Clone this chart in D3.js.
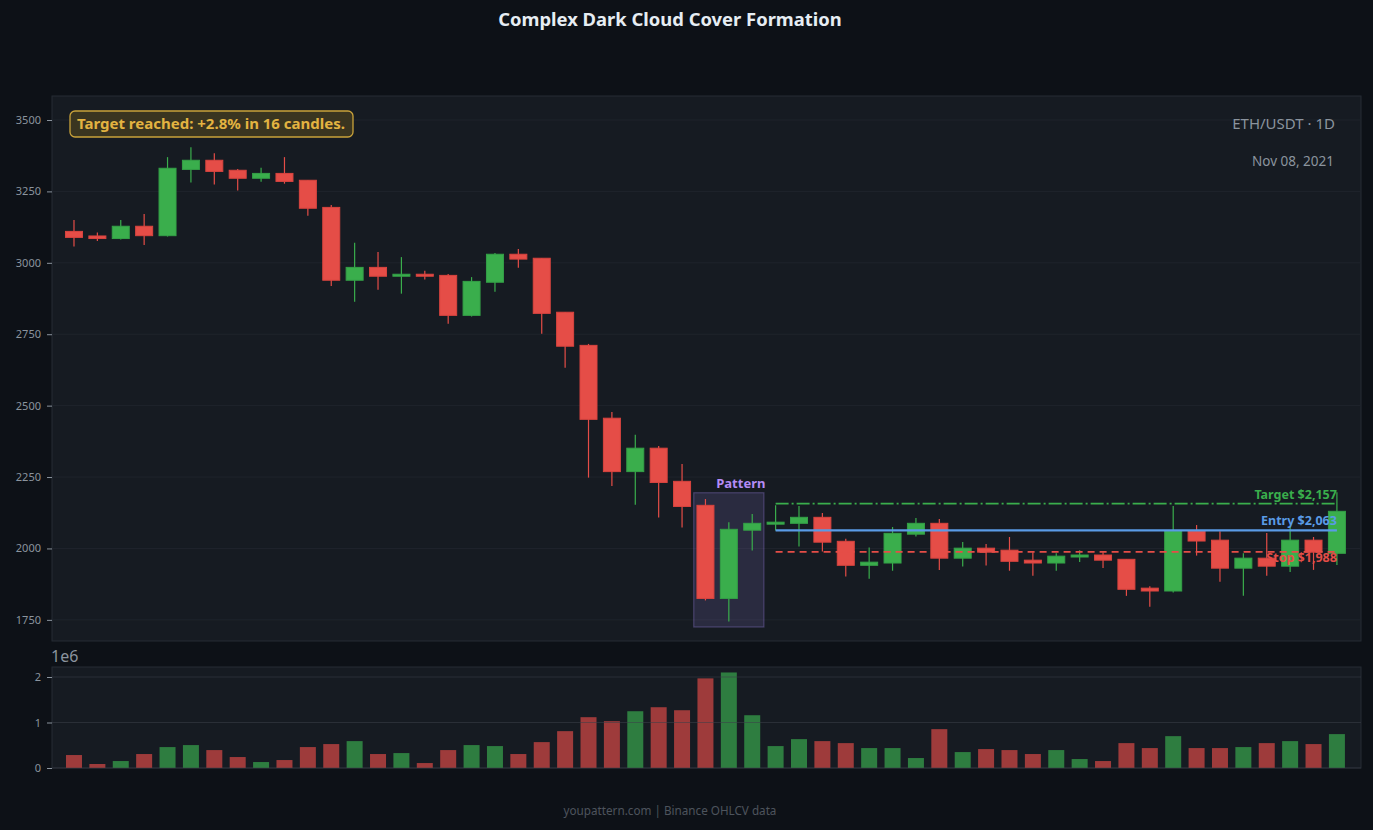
<!DOCTYPE html>
<html>
<head>
<meta charset="utf-8">
<script src="https://cdn.jsdelivr.net/npm/d3@7"></script>
<style>
  html, body { margin: 0; padding: 0; background: #0d1117; }
  svg { display: block; font-family: "Noto Sans", "Open Sans", sans-serif; }
</style>
</head>
<body>
<div id="chart"></div>
<script>
// ETH/USDT daily candles
const opens  = [3110, 3094, 3085, 3128, 3095, 3327, 3359, 3324, 3296, 3313,
                3289, 3194, 2939, 2984, 2953, 2960, 2956, 2816, 2932, 3030,
                3016, 2827, 2711, 2456, 2269, 2351, 2235, 2151, 1825, 2064,
                2085, 2088, 2109, 2025, 1941, 1949, 2050, 2088, 1966, 2001,
                1994, 1959, 1949, 1970, 1977, 1962, 1861, 1851, 2061, 2029,
                1931, 1966, 1938, 2029, 1983];
const highs  = [3150, 3106, 3150, 3171, 3370, 3405, 3384, 3328, 3333, 3370,
                3289, 3202, 3070, 3038, 3020, 2972, 2961, 2950, 3034, 3048,
                3016, 2827, 2716, 2478, 2398, 2359, 2296, 2173, 2092, 2121,
                2151, 2149, 2124, 2034, 2003, 2075, 2107, 2103, 2023, 2016,
                2040, 1987, 1983, 1994, 1987, 1962, 1868, 2149, 2082, 2060,
                1983, 2054, 2075, 2040, 2197];
const lows   = [3057, 3076, 3082, 3062, 3092, 3281, 3274, 3253, 3284, 3277,
                3165, 2919, 2864, 2906, 2892, 2942, 2787, 2812, 2899, 2983,
                2752, 2633, 2248, 2219, 2153, 2108, 2073, 1818, 1744, 1993,
                2063, 2007, 1989, 1902, 1894, 1922, 2042, 1925, 1937, 1940,
                1922, 1904, 1922, 1953, 1932, 1834, 1796, 1846, 1975, 1883,
                1834, 1904, 1918, 1925, 1942];
const closes = [3089, 3085, 3128, 3095, 3331, 3359, 3320, 3296, 3313, 3285,
                3191, 2939, 2984, 2953, 2960, 2953, 2816, 2935, 3030, 3013,
                2823, 2708, 2452, 2269, 2351, 2231, 2147, 1825, 2067, 2088,
                2092, 2109, 2022, 1941, 1952, 2053, 2088, 1966, 2001, 1987,
                1955, 1949, 1973, 1977, 1959, 1857, 1851, 2061, 2026, 1931,
                1966, 1938, 2029, 1987, 2130];
const volumes = [0.285, 0.088, 0.153, 0.307, 0.460, 0.504, 0.394, 0.241, 0.131, 0.175,
                 0.460, 0.526, 0.591, 0.307, 0.328, 0.109, 0.394, 0.504, 0.482, 0.307,
                 0.569, 0.810, 1.117, 1.029, 1.248, 1.336, 1.270, 1.970, 2.100, 1.160,
                 0.482, 0.635, 0.591, 0.547, 0.438, 0.438, 0.219, 0.854, 0.350, 0.416,
                 0.394, 0.307, 0.394, 0.197, 0.153, 0.547, 0.438, 0.700, 0.438, 0.438,
                 0.460, 0.547, 0.591, 0.526, 0.745]; // x 1e6

const priceTicks = [1750, 2000, 2250, 2500, 2750, 3000, 3250, 3500];
const volumeTicks = [0, 1, 2];

// pattern & trade levels
const patternRange = [26.5, 29.5];
const patternPrice = [1725, 2195];
const levelStart = 30, levelEnd = 54;
const targetPrice = 2157, entryPrice = 2063, stopPrice = 1988;

const width = 1373, height = 830;
const main = {left: 52, right: 1361, top: 96, bottom: 641};
const vol = {left: 52, right: 1361, top: 667, bottom: 768};

const green = "#3aae4c", red = "#e54d47";
const greenVol = "#2e7d40", redVol = "#9e3b3b";
const textGray = "#8b949e";

const candles = opens.map((o, i) => ({
  i: i, open: o, high: highs[i], low: lows[i], close: closes[i], volume: volumes[i]
}));

const svg = d3.select("#chart").append("svg")
  .attr("width", width)
  .attr("height", height);

svg.append("rect").attr("width", width).attr("height", height).attr("fill", "#0d1117");

const x = d3.scaleLinear().domain([-0.94, 55.03]).range([main.left, main.right]);
const y = d3.scaleLinear().domain([1676, 3584]).range([main.bottom, main.top]);
const yv = d3.scaleLinear().domain([0, 2.22]).range([vol.bottom, vol.top]);

// panels
[main, vol].forEach(p => {
  svg.append("rect")
    .attr("x", p.left).attr("y", p.top)
    .attr("width", p.right - p.left).attr("height", p.bottom - p.top)
    .attr("fill", "#161b22")
    .attr("stroke", "#262c35")
    .attr("stroke-width", 1);
});

// price grid
svg.append("g").selectAll("line")
  .data(priceTicks)
  .join("line")
  .attr("x1", main.left).attr("x2", main.right)
  .attr("y1", d => y(d)).attr("y2", d => y(d))
  .attr("stroke", "#1f242c")
  .attr("stroke-width", 1);

// price axis
const yAxis = svg.append("g")
  .attr("transform", `translate(${main.left},0)`)
  .call(d3.axisLeft(y).tickValues(priceTicks).tickFormat(d3.format("d")).tickSize(5).tickPadding(6));
yAxis.select(".domain").remove();
yAxis.selectAll(".tick line").attr("stroke", textGray);
yAxis.selectAll(".tick text").attr("fill", textGray).style("font-size", "11px")
  .style("font-family", "Noto Sans, sans-serif");

// pattern box
svg.append("rect")
  .attr("x", x(patternRange[0]))
  .attr("y", y(patternPrice[1]))
  .attr("width", x(patternRange[1]) - x(patternRange[0]))
  .attr("height", y(patternPrice[0]) - y(patternPrice[1]))
  .attr("fill", "rgba(167,139,250,0.14)")
  .attr("stroke", "rgba(167,139,250,0.3)")
  .attr("stroke-width", 1.2);

svg.append("text")
  .attr("x", (x(patternRange[0]) + x(patternRange[1])) / 2 + 12)
  .attr("y", y(patternPrice[1]) - 5)
  .attr("text-anchor", "middle")
  .attr("fill", "#b48cf6")
  .style("font-size", "13px")
  .style("font-weight", "bold")
  .text("Pattern");

// candles
const bodyW = 17;
const cg = svg.append("g");
cg.selectAll("line.wick")
  .data(candles)
  .join("line")
  .attr("class", "wick")
  .attr("x1", d => x(d.i)).attr("x2", d => x(d.i))
  .attr("y1", d => y(d.high)).attr("y2", d => y(d.low))
  .attr("stroke", d => d.close >= d.open ? green : red)
  .attr("stroke-width", 1.2);

cg.selectAll("rect.body")
  .data(candles)
  .join("rect")
  .attr("class", "body")
  .attr("x", d => x(d.i) - bodyW / 2)
  .attr("width", bodyW)
  .attr("y", d => y(Math.max(d.open, d.close)))
  .attr("height", d => Math.max(2, Math.abs(y(d.open) - y(d.close))))
  .attr("fill", d => d.close >= d.open ? green : red)
  .attr("stroke", d => d.close >= d.open ? "#34a047" : "#d9443f")
  .attr("stroke-width", 1);

// trade levels
const levels = [
  {price: targetPrice, color: "#3aae4c", dash: "13,3,2,3", w: 1.6, label: "Target $2,157", dy: -5},
  {price: entryPrice,  color: "#5a9be6", dash: null,       w: 2.2, label: "Entry $2,063",  dy: -5},
  {price: stopPrice,   color: "#e54d47", dash: "7,5",      w: 1.6, label: "Stop $1,988",   dy: 10}
];
levels.forEach(l => {
  svg.append("line")
    .attr("x1", x(levelStart)).attr("x2", x(levelEnd))
    .attr("y1", y(l.price)).attr("y2", y(l.price))
    .attr("stroke", l.color)
    .attr("stroke-width", l.w)
    .attr("stroke-dasharray", l.dash);
  svg.append("text")
    .attr("x", x(levelEnd))
    .attr("y", y(l.price) + l.dy)
    .attr("text-anchor", "end")
    .attr("fill", l.color)
    .style("font-size", "12.5px")
    .style("font-weight", "bold")
    .text(l.label);
});

// result box
const note = svg.append("g");
note.append("rect")
  .attr("x", 70).attr("y", 111)
  .attr("width", 283).attr("height", 26)
  .attr("rx", 5)
  .attr("fill", "#3a3520")
  .attr("stroke", "#c9a23a")
  .attr("stroke-width", 1.3);
note.append("text")
  .attr("x", 211).attr("y", 129)
  .attr("text-anchor", "middle")
  .attr("fill", "#e3b341")
  .style("font-size", "15px")
  .style("font-weight", "bold")
  .text("Target reached: +2.8% in 16 candles.");

// symbol / date
svg.append("text")
  .attr("x", 1335).attr("y", 129)
  .attr("text-anchor", "end")
  .attr("fill", textGray)
  .style("font-size", "15px")
  .text("ETH/USDT · 1D");
svg.append("text")
  .attr("x", 1334).attr("y", 166)
  .attr("text-anchor", "end")
  .attr("fill", textGray)
  .style("font-size", "13.5px")
  .text("Nov 08, 2021");

// volume bars
const volW = 16;
svg.append("g").selectAll("rect")
  .data(candles)
  .join("rect")
  .attr("x", d => x(d.i) - volW / 2)
  .attr("width", volW)
  .attr("y", d => yv(d.volume))
  .attr("height", d => yv(0) - yv(d.volume))
  .attr("fill", d => d.close >= d.open ? greenVol : redVol);

// volume grid (drawn over bars)
svg.append("g").selectAll("line")
  .data(volumeTicks)
  .join("line")
  .attr("x1", vol.left).attr("x2", vol.right)
  .attr("y1", d => yv(d)).attr("y2", d => yv(d))
  .attr("stroke", "rgba(60,64,72,0.55)")
  .attr("stroke-width", 1);

const vAxis = svg.append("g")
  .attr("transform", `translate(${vol.left},0)`)
  .call(d3.axisLeft(yv).tickValues(volumeTicks).tickFormat(d3.format("d")).tickSize(5).tickPadding(6));
vAxis.select(".domain").remove();
vAxis.selectAll(".tick line").attr("stroke", textGray);
vAxis.selectAll(".tick text").attr("fill", textGray).style("font-size", "11px")
  .style("font-family", "Noto Sans, sans-serif");

svg.append("text")
  .attr("x", 51).attr("y", 662)
  .attr("fill", textGray)
  .style("font-size", "16px")
  .text("1e6");

// title & footer
svg.append("text")
  .attr("x", 670).attr("y", 26)
  .attr("text-anchor", "middle")
  .attr("fill", "#e6edf3")
  .style("font-size", "18.4px")
  .style("font-weight", "bold")
  .text("Complex Dark Cloud Cover Formation");

svg.append("text")
  .attr("x", 670).attr("y", 815)
  .attr("text-anchor", "middle")
  .attr("fill", "#4d545d")
  .style("font-size", "11.7px")
  .text("youpattern.com | Binance OHLCV data");
</script>
</body>
</html>
